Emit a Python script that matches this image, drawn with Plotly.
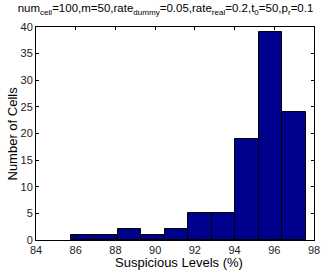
import plotly.graph_objects as go

# Histogram data
bin_left_edge = 85.76
bin_width = 1.182
counts = [1, 1, 2, 1, 2, 5, 5, 19, 39, 24]
centers = [bin_left_edge + (i + 0.5) * bin_width for i in range(len(counts))]

x_ticks = [84, 86, 88, 90, 92, 94, 96, 98]
y_ticks = [0, 5, 10, 15, 20, 25, 30, 35, 40]

title_text = ("num<sub>cell</sub>=100,m=50,rate<sub>dummy</sub>=0.05,"
              "rate<sub>real</sub>=0.2,t<sub>0</sub>=50,p<sub>r</sub>=0.1")
x_title = "Suspicious Levels (%)"
y_title = "Number of Cells"

fig = go.Figure()
fig.add_trace(go.Bar(
    x=centers, y=counts, width=bin_width,
    marker=dict(color="#00008F", line=dict(color="black", width=1)),
))

font = "Liberation Sans, Arial, sans-serif"
W, H = 331, 276
L, R, T, B = 36, 17, 27, 36
pw, ph = W - L - R, H - T - B

fig.update_layout(
    width=W, height=H,
    margin=dict(l=L, r=R, t=T, b=B, autoexpand=False),
    paper_bgcolor="white", plot_bgcolor="white",
    showlegend=False,
    bargap=0,
    font=dict(family=font, size=11, color="black"),
    title=dict(text=title_text, x=0.5, xanchor="center", y=0.985, yanchor="top",
               font=dict(family=font, size=11.5, color="black")),
)
tickfont = dict(family=font, size=11, color="#222222")
fig.update_xaxes(
    range=[84, 98], tickvals=x_ticks, ticks="inside", ticklen=3, tickcolor="black",
    tickfont=tickfont, automargin=False,
    showline=True, linecolor="black", linewidth=1, mirror="ticks",
    showgrid=False, zeroline=False,
)
fig.update_yaxes(
    range=[0, 40], tickvals=y_ticks, ticks="inside", ticklen=3, tickcolor="black",
    tickfont=tickfont, automargin=False,
    showline=True, linecolor="black", linewidth=1, mirror="ticks",
    showgrid=False, zeroline=False,
)

# axis titles placed as annotations (pixel positions measured on the reference)
fig.add_annotation(
    text=x_title, xref="paper", yref="paper",
    x=(179 - L) / pw, y=-(262 - (T + ph)) / ph,
    xanchor="center", yanchor="middle", showarrow=False,
    font=dict(family=font, size=13, color="black"),
)
fig.add_annotation(
    text=y_title, xref="paper", yref="paper",
    x=(12 - L) / pw, y=0.5, textangle=-90,
    xanchor="center", yanchor="middle", showarrow=False,
    font=dict(family=font, size=13, color="black"),
)

fig.write_html(
    "out.html",
    config={"displayModeBar": False},
    post_script="document.body.style.margin='0';document.body.style.overflow='hidden';",
)
